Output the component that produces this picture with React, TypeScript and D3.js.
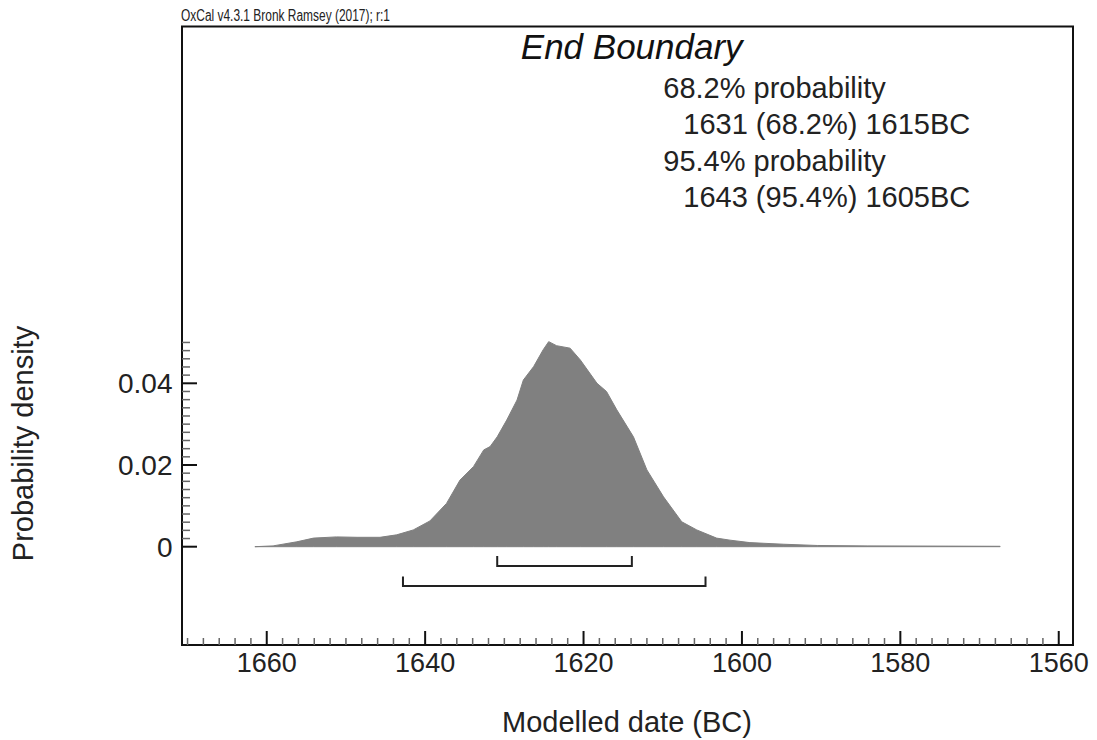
import React from "react";
import * as d3 from "d3";

const headerText = "OxCal v4.3.1 Bronk Ramsey (2017); r:1";
const titleText = "End Boundary";
const summaryLines = [
  "68.2% probability",
  "1631 (68.2%) 1615BC",
  "95.4% probability",
  "1643 (95.4%) 1605BC",
];
const summaryIndent = [false, true, false, true];

const years = [
  1661.5, 1659.2, 1656.2, 1654.1, 1651.2, 1648.6, 1645.7, 1643.6, 1641.5, 1639.4,
  1637.3, 1635.6, 1633.9, 1632.6, 1631.8, 1630.9, 1629.7, 1628.4, 1627.6, 1626.3,
  1625.1, 1624.4, 1623.4, 1621.7, 1620.4, 1618.3, 1617.1, 1615.8, 1613.7, 1612.0,
  1609.9, 1607.6, 1605.7, 1603.2, 1601.5, 1599.0, 1594.7, 1590.5, 1584.2, 1567.4,
];
const density = [
  0, 0.0002, 0.0012, 0.0021, 0.0024, 0.0023, 0.0023, 0.0029, 0.0041, 0.0063,
  0.0106, 0.0163, 0.0196, 0.0237, 0.0245, 0.0269, 0.031, 0.0359, 0.0408, 0.0441,
  0.0482, 0.0502, 0.0492, 0.0486, 0.0457, 0.04, 0.038, 0.0335, 0.0269, 0.0188,
  0.0122, 0.0061, 0.0041, 0.0021, 0.0016, 0.001, 0.0006, 0.0003, 0.0002, 0.0001,
];

const range68 = [1630.9, 1613.9];
const range95 = [1642.8, 1604.6];

const xMajorTicks = [1660, 1640, 1620, 1600, 1580, 1560];
const yMajorTicks = [0, 0.02, 0.04];
const yTickLabels = ["0", "0.02", "0.04"];

const xLabel = "Modelled date (BC)";
const yLabel = "Probability density";

export default function App() {
  const W = 1097;
  const H = 740;
  const left = 182;
  const right = 1073;
  const top = 26.5;
  const bottom = 645;
  const font = "'Liberation Sans', Arial, sans-serif";

  const x = d3.scaleLinear().domain([1670.7, 1558.2]).range([left, right]);
  const y = d3.scaleLinear().domain([0, 0.04]).range([546.7, 383.3]);

  const pts = years.map((yr, i) => ({ yr, d: density[i] }));
  const area = d3
    .area<{ yr: number; d: number }>()
    .x((p) => x(p.yr))
    .y0(y(0))
    .y1((p) => y(p.d));

  const xMinor = d3.range(1670, 1558, -2).filter((v) => !xMajorTicks.includes(v));
  const yMinor = d3.range(0, 0.0501, 0.002).filter(
    (v) => !yMajorTicks.some((m) => Math.abs(m - v) < 1e-9)
  );

  const bracket = (r: number[], yTop: number, yBar: number, key: string) => (
    <path
      key={key}
      d={`M${x(r[0])},${yTop}V${yBar}H${x(r[1])}V${yTop}`}
      fill="none"
      stroke="#222"
      strokeWidth={2}
    />
  );

  return (
    <svg
      width={W}
      height={H}
      style={{ position: "absolute", left: 0, top: 0, background: "#fff" }}
      fontFamily={font}
    >
      <rect x={0} y={0} width={W} height={H} fill="#fff" />
      <text
        x={181}
        y={21}
        fontSize={16}
        textLength={209}
        lengthAdjust="spacingAndGlyphs"
        fill="#222"
      >
        {headerText}
      </text>

      {/* distribution */}
      <path d={area(pts) || ""} fill="#808080" stroke="#808080" strokeWidth={1} />

      {/* brackets */}
      {bracket(range68, 556, 566, "b68")}
      {bracket(range95, 576.5, 586, "b95")}

      {/* frame */}
      <rect
        x={left}
        y={top}
        width={right - left}
        height={bottom - top}
        fill="none"
        stroke="#111"
        strokeWidth={2}
      />

      {/* x ticks */}
      {xMinor.map((v) => (
        <line key={"xm" + v} x1={x(v)} x2={x(v)} y1={bottom} y2={bottom - 7} stroke="#666" strokeWidth={1.5} />
      ))}
      {xMajorTicks.map((v) => (
        <g key={"xM" + v}>
          <line x1={x(v)} x2={x(v)} y1={bottom} y2={bottom - 14} stroke="#111" strokeWidth={2} />
          <text x={x(v)} y={672} fontSize={27} textAnchor="middle" fill="#222">
            {v}
          </text>
        </g>
      ))}

      {/* y ticks */}
      {yMinor.map((v) => (
        <line key={"ym" + v} x1={left} x2={left + 8} y1={y(v)} y2={y(v)} stroke="#666" strokeWidth={1.5} />
      ))}
      {yMajorTicks.map((v, i) => (
        <g key={"yM" + v}>
          <line x1={left} x2={left + 15} y1={y(v)} y2={y(v)} stroke="#111" strokeWidth={2} />
          <text x={172.5} y={y(v) + 10} fontSize={28} textAnchor="end" fill="#222">
            {yTickLabels[i]}
          </text>
        </g>
      ))}

      {/* title */}
      <text x={631.7} y={59} fontSize={35} fontStyle="italic" textAnchor="middle" fill="#111">
        {titleText}
      </text>

      {/* summary */}
      {summaryLines.map((s, i) => (
        <text
          key={"s" + i}
          x={summaryIndent[i] ? 683.3 : 663.3}
          y={98.3 + i * 36.1}
          fontSize={29}
          fill="#222"
        >
          {s}
        </text>
      ))}

      {/* axis labels */}
      <text x={627} y={731.7} fontSize={29} textAnchor="middle" fill="#222">
        {xLabel}
      </text>
      <text
        transform={`translate(33,443.5) rotate(-90)`}
        fontSize={29}
        textAnchor="middle"
        fill="#222"
      >
        {yLabel}
      </text>
    </svg>
  );
}
